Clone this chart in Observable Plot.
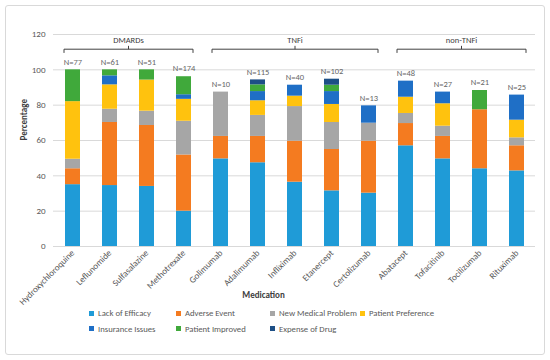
<!DOCTYPE html>
<html><head><meta charset="utf-8">
<script src="https://cdn.jsdelivr.net/npm/d3@7"></script>
<script src="https://cdn.jsdelivr.net/npm/@observablehq/plot@0.6"></script>
<style>
body{margin:0;background:#fff;font-family:Calibri,Carlito,"Liberation Sans",Arial,sans-serif;}
#wrap{position:relative;width:550px;height:360px;overflow:hidden;background:#fff;}
#frame{position:absolute;left:5px;top:5px;width:540px;height:350px;border:1px solid #d9d9d9;border-radius:3px;box-sizing:border-box;}
#chart{position:absolute;left:0;top:0;}
#legend{position:absolute;left:0;top:306px;width:550px;height:40px;font-size:8.7px;color:#595959;}
.li{position:absolute;display:flex;align-items:center;white-space:nowrap;height:10px;}
.sw{width:5px;height:5px;margin-right:4px;}
</style></head><body>
<div id="wrap"><div id="frame"></div><div id="chart"></div><div id="legend"></div></div>
<script>
const medications = ["Hydroxychloroquine","Leflunomide","Sulfasalazine","Methotrexate","Golimumab","Adalimumab","Infliximab","Etanercept","Certolizumab","Abatacept","Tofacitinib","Tocilizumab","Rituximab"];
const nLabels = [77,61,51,174,10,115,40,102,13,48,27,21,25];
const reasons = ["Lack of Efficacy","Adverse Event","New Medical Problem","Patient Preference","Insurance Issues","Patient Improved","Expense of Drug"];
const reasonColors = ["#1f9bd7","#f47b20","#a6a6a6","#ffc20e","#1f6fc6","#40a93b","#1d4f86"];

const lackOfEfficacy    = [35,34.5,34,20,49.6,47.4,36.4,31.5,30.2,57,49.6,44,42.8];
const adverseEvent      = [9,35.7,34.5,31.8,12.7,14.9,23.2,23.4,29.4,12.6,12.7,33.4,14.2];
const newMedicalProblem = [5.4,7.5,8.1,19.1,25.1,11.9,19.6,15.3,10.2,5.7,5.8,0,4.5];
const patientPreference = [32.6,13.8,17.6,12.4,0,8.3,5.9,10.2,0,9.2,12.7,0,10];
const insuranceIssues   = [0,5.1,0,2.6,0,5.2,6.2,7.3,9.8,9.1,6.6,0,14.2];
const patientImproved   = [18,3.4,5.8,10.2,0,3.8,0,3.6,0,0,0,10.9,0];
const expenseOfDrug     = [0,0,0,0,0,2.8,0,3.4,0,0,0,0,0];

const groupNames = ["DMARDs","TNFi","non-TNFi"];
const groupFirst = ["Hydroxychloroquine","Golimumab","Abatacept"];
const groupLast  = ["Methotrexate","Certolizumab","Rituximab"];
const yTicks = [0,20,40,60,80,100,120];

const series = [lackOfEfficacy,adverseEvent,newMedicalProblem,patientPreference,insuranceIssues,patientImproved,expenseOfDrug];
const rows = [];
series.forEach((vals, r) => vals.forEach((v, i) => { if (v > 0) rows.push({medication: medications[i], reason: reasons[r], value: v}); }));
const totals = medications.map((m, i) => d3.sum(series, s => s[i]));

const font = 'Calibri, Carlito, "Liberation Sans", Arial, sans-serif';
const plot = Plot.plot({
  width: 550, height: 300,
  marginLeft: 53, marginRight: 15, marginTop: 34, marginBottom: 54,
  style: {fontFamily: font, fontSize: "9px", color: "#595959", background: "transparent", overflow: "visible"},
  x: {domain: medications, paddingInner: 0.6, paddingOuter: 0.3, tickRotate: -45, tickSize: 0, tickPadding: 5, label: null},
  y: {domain: [0, 120], ticks: yTicks, tickSize: 0, tickPadding: 8, label: null},
  color: {domain: reasons, range: reasonColors},
  marks: [
    Plot.ruleY(yTicks, {stroke: "#d9d9d9", strokeWidth: 1}),
    Plot.barY(rows, {x: "medication", y: "value", fill: "reason", order: null}),
    Plot.text(medications, {x: d => d, y: (d, i) => totals[i], text: (d, i) => "N=" + nLabels[i], dy: -8, fill: "#666666", fontSize: 8.5}),
    Plot.text(["Percentage"], {frameAnchor: "left", dx: -29, rotate: -90, fontWeight: "bold", fill: "#404040", fontSize: 9}),
    Plot.text(["Medication"], {frameAnchor: "bottom", dx: -31, dy: 51, fontWeight: "bold", fill: "#404040", fontSize: 9})
  ]
});
document.getElementById("chart").appendChild(plot);

// group brackets from the plot's own scales
const xs = plot.scale("x"), ys = plot.scale("y");
const bw = xs.bandwidth;
const svg = d3.select(plot);
const yLine = ys.apply(111.4), yEnd = ys.apply(109.3), yMid = ys.apply(113.3), yLab = ys.apply(116.2);
groupNames.forEach((g, k) => {
  const x0 = xs.apply(groupFirst[k]) - 1;
  const x1 = xs.apply(groupLast[k]) + bw + 2;
  const xm = (x0 + x1) / 2;
  svg.append("path")
    .attr("d", `M${x0},${yEnd}L${x0},${yLine}L${x1},${yLine}L${x1},${yEnd}M${xm},${yLine}L${xm},${yMid}`)
    .attr("fill", "none").attr("stroke", "#404040").attr("stroke-width", 1);
  svg.append("text").attr("x", xm).attr("y", yLab).attr("text-anchor", "middle")
    .attr("dominant-baseline", "middle").attr("fill", "#404040").attr("font-size", 8.5).text(g);
});

// legend
const legX = [89, 176, 270, 360];
const legend = document.getElementById("legend");
reasons.forEach((r, i) => {
  const d = document.createElement("div");
  d.className = "li";
  d.style.left = legX[i % 4] + "px";
  d.style.top = (i < 4 ? 2 : 17.5) + "px";
  d.innerHTML = `<span class="sw" style="background:${reasonColors[i]}"></span><span>${r}</span>`;
  legend.appendChild(d);
});
</script>
</body></html>
